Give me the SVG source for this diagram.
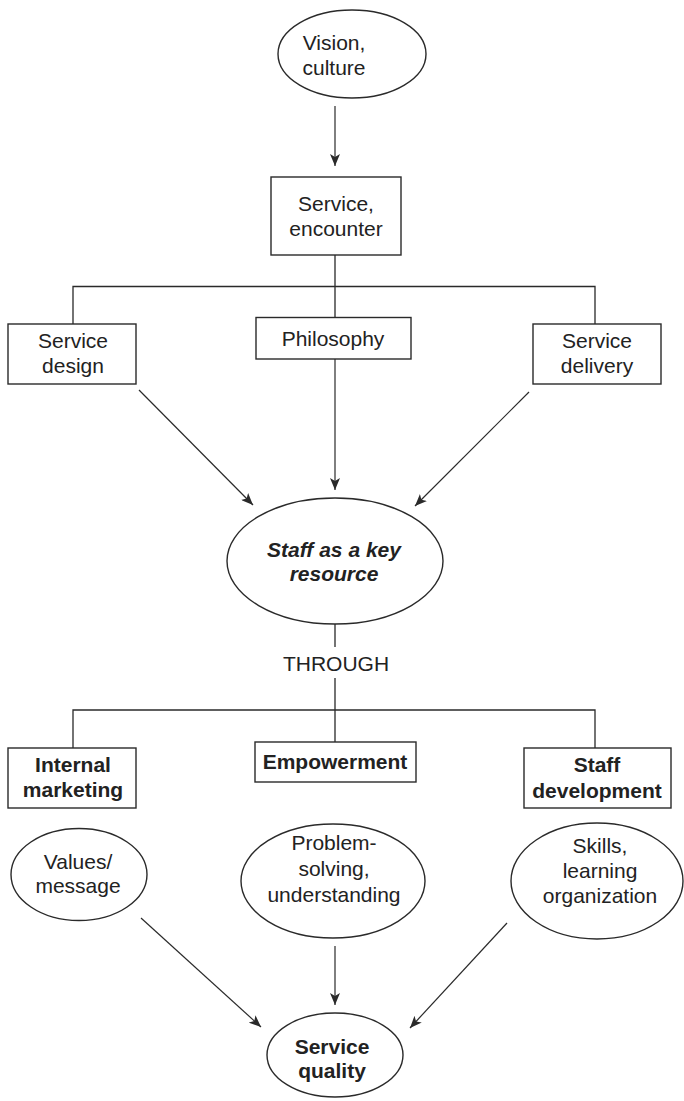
<svg xmlns="http://www.w3.org/2000/svg" width="684" height="1101" viewBox="0 0 684 1101">
  <style>
    .shape { fill: #ffffff; stroke: #2a2a2a; stroke-width: 1.4; }
    .wire { fill: none; stroke: #2a2a2a; stroke-width: 1.3; }
    .arrow { fill: none; stroke: #2a2a2a; stroke-width: 1.2; marker-end: url(#head); }
    text { font-family: "Liberation Sans", Arial, sans-serif; font-size: 21px; fill: #222222; text-anchor: middle; }
    .bold { font-weight: bold; }
    .bolditalic { font-weight: bold; font-style: italic; }
  </style>
  <defs>
    <marker id="head" viewBox="0 0 12 10" refX="12" refY="5" markerWidth="12" markerHeight="10" markerUnits="userSpaceOnUse" orient="auto">
      <path d="M0,0 L12,5 L0,10 L3,5 z" fill="#2a2a2a"/>
    </marker>
  </defs>
  <rect width="684" height="1101" fill="#ffffff"/>

  <!-- connectors -->
  <g id="connectors">
    <line class="arrow" x1="335" y1="106" x2="335" y2="166"/>
    <path class="wire" d="M335,255 V317.5 M73,324 V286.5 H595 V324"/>
    <line class="arrow" x1="139" y1="390" x2="253" y2="505"/>
    <line class="arrow" x1="335" y1="359" x2="335" y2="490"/>
    <line class="arrow" x1="529" y1="392" x2="415" y2="506"/>
    <path class="wire" d="M335,624 V647 M335,678 V742 M73,748 V710 H595 V748"/>
    <line class="arrow" x1="141" y1="918" x2="261" y2="1027"/>
    <line class="arrow" x1="335" y1="946" x2="335" y2="1005"/>
    <line class="arrow" x1="507" y1="923" x2="410" y2="1028"/>
  </g>

  <g id="vision">
    <ellipse class="shape" cx="352" cy="54" rx="74" ry="44"/>
    <text x="334" y="50">Vision,</text>
    <text x="334" y="75">culture</text>
  </g>

  <g id="service-encounter">
    <rect class="shape" x="271" y="177" width="130" height="78"/>
    <text x="336" y="211">Service,</text>
    <text x="336" y="236">encounter</text>
  </g>

  <g id="service-design">
    <rect class="shape" x="8" y="324" width="128" height="60"/>
    <text x="73" y="348">Service</text>
    <text x="73" y="373">design</text>
  </g>

  <g id="philosophy">
    <rect class="shape" x="256" y="317.5" width="155" height="41.5"/>
    <text x="333" y="346">Philosophy</text>
  </g>

  <g id="service-delivery">
    <rect class="shape" x="533" y="324" width="128" height="60"/>
    <text x="597" y="348">Service</text>
    <text x="597" y="373">delivery</text>
  </g>

  <g id="staff-resource">
    <ellipse class="shape" cx="335" cy="561" rx="108" ry="63"/>
    <text class="bolditalic" x="334" y="557">Staff as a key</text>
    <text class="bolditalic" x="334" y="581">resource</text>
  </g>

  <g id="through">
    <text x="336" y="671">THROUGH</text>
  </g>

  <g id="internal-marketing">
    <rect class="shape" x="8" y="748" width="128" height="60"/>
    <text class="bold" x="73" y="772">Internal</text>
    <text class="bold" x="73" y="797">marketing</text>
  </g>

  <g id="empowerment">
    <rect class="shape" x="255" y="742" width="161" height="40"/>
    <text class="bold" x="335" y="769">Empowerment</text>
  </g>

  <g id="staff-development">
    <rect class="shape" x="524" y="748" width="147" height="60"/>
    <text class="bold" x="597" y="772">Staff</text>
    <text class="bold" x="597" y="798">development</text>
  </g>

  <g id="values">
    <ellipse class="shape" cx="79" cy="874.5" rx="68" ry="46"/>
    <text x="78" y="869">Values/</text>
    <text x="78" y="893">message</text>
  </g>

  <g id="problem-solving">
    <ellipse class="shape" cx="333" cy="881" rx="92" ry="57"/>
    <text x="334" y="850">Problem-</text>
    <text x="334" y="876">solving,</text>
    <text x="334" y="902">understanding</text>
  </g>

  <g id="skills">
    <ellipse class="shape" cx="597" cy="881" rx="86" ry="58"/>
    <text x="600" y="853">Skills,</text>
    <text x="600" y="878">learning</text>
    <text x="600" y="903">organization</text>
  </g>

  <g id="service-quality">
    <ellipse class="shape" cx="335" cy="1055" rx="68" ry="42"/>
    <text class="bold" x="332" y="1054">Service</text>
    <text class="bold" x="332" y="1078">quality</text>
  </g>
</svg>
